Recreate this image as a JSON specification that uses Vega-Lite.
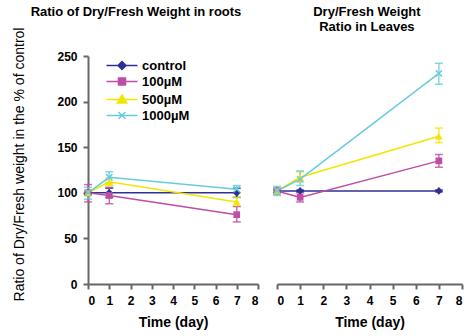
{
  "$schema": "https://vega.github.io/schema/vega-lite/v6.json",
  "background": "white",
  "padding": {"left": 12, "top": 6, "right": 4, "bottom": 6},
  "bounds": "flush",
  "spacing": 19,
  "config": {
    "font": "Liberation Sans",
    "view": {"stroke": null},
    "axis": {"grid": false, "domainColor": "#666666", "domainWidth": 2, "tickColor": "#666666", "tickWidth": 2, "tickSize": 5, "labelFont": "Liberation Sans", "labelFontWeight": "bold", "labelFontSize": 12, "labelColor": "#000000", "labelPadding": 6, "titleFont": "Liberation Sans", "titleColor": "#000000"},
    "title": {"font": "Liberation Sans", "fontSize": 13, "fontWeight": "bold", "color": "#000000", "frame": "bounds", "anchor": "middle", "lineHeight": 15}
  },
  "datasets": {
    "roots": [
      {"series": "control", "day": 0, "value": 100, "lo": 98, "hi": 102},
      {"series": "control", "day": 1, "value": 100, "lo": 95, "hi": 105},
      {"series": "control", "day": 7, "value": 100, "lo": 95, "hi": 105},
      {"series": "100µM", "day": 0, "value": 100, "lo": 90, "hi": 109},
      {"series": "100µM", "day": 1, "value": 97, "lo": 88, "hi": 106},
      {"series": "100µM", "day": 7, "value": 76, "lo": 68, "hi": 85},
      {"series": "500µM", "day": 0, "value": 100, "lo": 97, "hi": 103},
      {"series": "500µM", "day": 1, "value": 112, "lo": 108, "hi": 116},
      {"series": "500µM", "day": 7, "value": 90, "lo": 85, "hi": 95},
      {"series": "1000µM", "day": 0, "value": 100, "lo": 93, "hi": 106},
      {"series": "1000µM", "day": 1, "value": 117, "lo": 111, "hi": 123},
      {"series": "1000µM", "day": 7, "value": 104, "lo": 100, "hi": 108}
    ],
    "leaves": [
      {"series": "control", "day": 0, "value": 102, "lo": 100, "hi": 104},
      {"series": "control", "day": 1, "value": 102, "lo": 101, "hi": 103},
      {"series": "control", "day": 7, "value": 102, "lo": 101, "hi": 103},
      {"series": "100µM", "day": 0, "value": 102, "lo": 99, "hi": 105},
      {"series": "100µM", "day": 1, "value": 95, "lo": 90, "hi": 100},
      {"series": "100µM", "day": 7, "value": 135, "lo": 128, "hi": 142},
      {"series": "500µM", "day": 0, "value": 102, "lo": 99, "hi": 105},
      {"series": "500µM", "day": 1, "value": 117, "lo": 112, "hi": 123},
      {"series": "500µM", "day": 7, "value": 162, "lo": 155, "hi": 171},
      {"series": "1000µM", "day": 0, "value": 102, "lo": 97, "hi": 107},
      {"series": "1000µM", "day": 1, "value": 115, "lo": 108, "hi": 124},
      {"series": "1000µM", "day": 7, "value": 231, "lo": 219, "hi": 242}
    ]
  },
  "hconcat": [
    {
      "width": 170,
      "height": 228,
      "data": {"name": "roots"},
      "title": {"text": "Ratio of Dry/Fresh Weight in roots", "offset": 8},
      "encoding": {
        "x": {"field": "day", "type": "quantitative", "scale": {"domain": [0, 8], "nice": false}, "axis": {"values": [0, 1, 2, 3, 4, 5, 6, 7, 8], "title": "Time (day)", "titleFontSize": 14, "titleFontWeight": "bold", "titlePadding": 9}},
        "color": {"field": "series", "type": "nominal", "scale": {"domain": ["control", "100µM", "500µM", "1000µM"], "range": ["#2E3192", "#BE4DA6", "#F2E600", "#66CCDD"]}, "legend": {"orient": "none", "legendX": 18, "legendY": 3, "title": null, "symbolSize": 64, "symbolStrokeWidth": 1.5, "symbolOpacity": 1, "labelFontSize": 13, "labelFontWeight": "bold", "labelFont": "Liberation Sans", "labelColor": "#000000", "labelOffset": 23, "rowPadding": 2, "encoding": {"symbols": {"shape": {"value": {"expr": "datum.value === 'control' ? 'M-1.5,0H6.25M2.375,-1L3.375,0L2.375,1L1.375,0Z' : datum.value === '100µM' ? 'M-1.5,0H6.25M1.5,-0.875H3.25V0.875H1.5Z' : datum.value === '500µM' ? 'M-1.5,0H6.25M2.375,-1.15L3.55,0.85H1.2Z' : 'M-1.5,0H6.25M1.5,-0.875L3.25,0.875M1.5,0.875L3.25,-0.875'"}}, "stroke": {"value": {"expr": "scale('color', datum.value)"}}, "fill": {"value": {"expr": "scale('color', datum.value)"}}, "strokeWidth": {"value": 1.5}, "opacity": {"value": 1}}}}}
      },
      "layer": [
        {
          "mark": {"type": "errorbar", "ticks": {"size": 8, "thickness": 1.5}, "thickness": 1.5, "opacity": 0.8},
          "encoding": {
            "y": {"field": "lo", "type": "quantitative", "scale": {"domain": [0, 250], "nice": false}, "axis": {"values": [0, 50, 100, 150, 200, 250], "title": "Ratio of Dry/Fresh weight in the % of control", "titleFontSize": 14, "titleFontWeight": "normal", "titlePadding": 30, "titleY": 108}},
            "y2": {"field": "hi"}
          }
        },
        {
          "mark": {"type": "line", "strokeWidth": 1.5},
          "encoding": {"y": {"field": "value", "type": "quantitative"}}
        },
        {
          "transform": [{"filter": "datum.series === 'control'"}],
          "mark": {"type": "point", "filled": true, "shape": "diamond", "size": 60, "opacity": 1},
          "encoding": {"y": {"field": "value", "type": "quantitative"}}
        },
        {
          "transform": [{"filter": "datum.series === '100µM'"}],
          "mark": {"type": "point", "filled": true, "shape": "square", "size": 45, "opacity": 1},
          "encoding": {"y": {"field": "value", "type": "quantitative"}}
        },
        {
          "transform": [{"filter": "datum.series === '500µM'"}],
          "mark": {"type": "point", "filled": true, "shape": "triangle-up", "size": 60, "opacity": 1},
          "encoding": {"y": {"field": "value", "type": "quantitative"}}
        },
        {
          "transform": [{"filter": "datum.series === '1000µM'"}],
          "mark": {"type": "point", "filled": false, "shape": "M-1,-1L1,1M-1,1L1,-1", "size": 40, "strokeWidth": 1.5, "opacity": 1},
          "encoding": {"y": {"field": "value", "type": "quantitative"}}
        }
      ]
    },
    {
      "width": 185,
      "height": 228,
      "data": {"name": "leaves"},
      "title": {"text": ["Dry/Fresh Weight", "Ratio in Leaves"], "offset": 22},
      "encoding": {
        "x": {"field": "day", "type": "quantitative", "scale": {"domain": [0, 8], "nice": false}, "axis": {"values": [0, 1, 2, 3, 4, 5, 6, 7, 8], "title": "Time (day)", "titleFontSize": 14, "titleFontWeight": "bold", "titlePadding": 9}},
        "color": {"field": "series", "type": "nominal"}
      },
      "layer": [
        {
          "mark": {"type": "errorbar", "ticks": {"size": 8, "thickness": 1.5}, "thickness": 1.5, "opacity": 0.8},
          "encoding": {
            "y": {"field": "lo", "type": "quantitative", "scale": {"domain": [0, 250], "nice": false}, "axis": null},
            "y2": {"field": "hi"}
          }
        },
        {
          "mark": {"type": "line", "strokeWidth": 1.5},
          "encoding": {"y": {"field": "value", "type": "quantitative"}}
        },
        {
          "transform": [{"filter": "datum.series === 'control'"}],
          "mark": {"type": "point", "filled": true, "shape": "diamond", "size": 60, "opacity": 1},
          "encoding": {"y": {"field": "value", "type": "quantitative"}}
        },
        {
          "transform": [{"filter": "datum.series === '100µM'"}],
          "mark": {"type": "point", "filled": true, "shape": "square", "size": 45, "opacity": 1},
          "encoding": {"y": {"field": "value", "type": "quantitative"}}
        },
        {
          "transform": [{"filter": "datum.series === '500µM'"}],
          "mark": {"type": "point", "filled": true, "shape": "triangle-up", "size": 60, "opacity": 1},
          "encoding": {"y": {"field": "value", "type": "quantitative"}}
        },
        {
          "transform": [{"filter": "datum.series === '1000µM'"}],
          "mark": {"type": "point", "filled": false, "shape": "M-1,-1L1,1M-1,1L1,-1", "size": 40, "strokeWidth": 1.5, "opacity": 1},
          "encoding": {"y": {"field": "value", "type": "quantitative"}}
        }
      ]
    }
  ]
}
